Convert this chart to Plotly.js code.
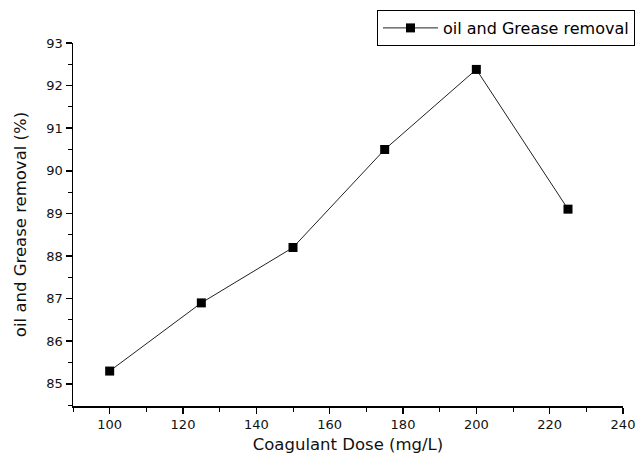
<!DOCTYPE html>
<html>
<head>
<meta charset="utf-8">
<script src="https://cdn.plot.ly/plotly-3.0.1.min.js"></script>
<style>html,body{margin:0;padding:0;background:#fff;}#chart{width:639px;height:459px;}</style>
</head>
<body>
<div id="chart"></div>
<script>
const doses = [100, 125, 150, 175, 200, 225];
const removal = [85.3, 86.9, 88.2, 90.5, 92.38, 89.1];
const seriesName = "oil and Grease removal";
const xTickVals = [100, 120, 140, 160, 180, 200, 220, 240];
const yTickVals = [85, 86, 87, 88, 89, 90, 91, 92, 93];

const trace = {
  x: doses, y: removal, name: seriesName,
  type: 'scatter', mode: 'lines+markers',
  line: {color: '#222', width: 1},
  marker: {symbol: 'square', size: 9, color: '#000'},
  showlegend: true
};

const layout = {
  width: 639, height: 459,
  margin: {l: 73, r: 16, t: 43, b: 53, autoexpand: false},
  paper_bgcolor: '#fff', plot_bgcolor: '#fff',
  font: {family: 'DejaVu Sans, Arial, sans-serif', color: '#111', size: 13},
  showlegend: true,
  legend: {
    xref: 'container', yref: 'container',
    x: 635/639, xanchor: 'right', y: 1 - 10/459, yanchor: 'top',
    bordercolor: '#000', borderwidth: 1, bgcolor: '#fff',
    font: {size: 16, color: '#000'},
    itemwidth: 55, tracegroupgap: 0
  },
  xaxis: {
    range: [90, 240], tickvals: xTickVals,
    showline: true, linecolor: '#000', linewidth: 1.5,
    ticks: 'outside', ticklen: 6, tickwidth: 1.5, tickcolor: '#000',
    minor: {dtick: 10, tick0: 90, ticks: 'outside', ticklen: 4, tickwidth: 1, tickcolor: '#000'},
    showgrid: false, zeroline: false, mirror: false,
    tickfont: {size: 13, color: '#111'},
    title: {text: 'Coagulant Dose (mg/L)', font: {size: 16.5, color: '#111'}, standoff: 7}
  },
  yaxis: {
    range: [84.48, 93], tickvals: yTickVals,
    showline: true, linecolor: '#000', linewidth: 1.5,
    ticks: 'outside', ticklen: 6, tickwidth: 1.5, tickcolor: '#000',
    minor: {dtick: 0.5, tick0: 84.5, ticks: 'outside', ticklen: 4, tickwidth: 1, tickcolor: '#000'},
    showgrid: false, zeroline: false, mirror: false,
    tickfont: {size: 13, color: '#111'},
    title: {text: 'oil and Grease removal (%)', font: {size: 16.5, color: '#111'}, standoff: 15}
  }
};

Plotly.newPlot('chart', [trace], layout, {displayModeBar: false, staticPlot: true});
</script>
</body>
</html>
